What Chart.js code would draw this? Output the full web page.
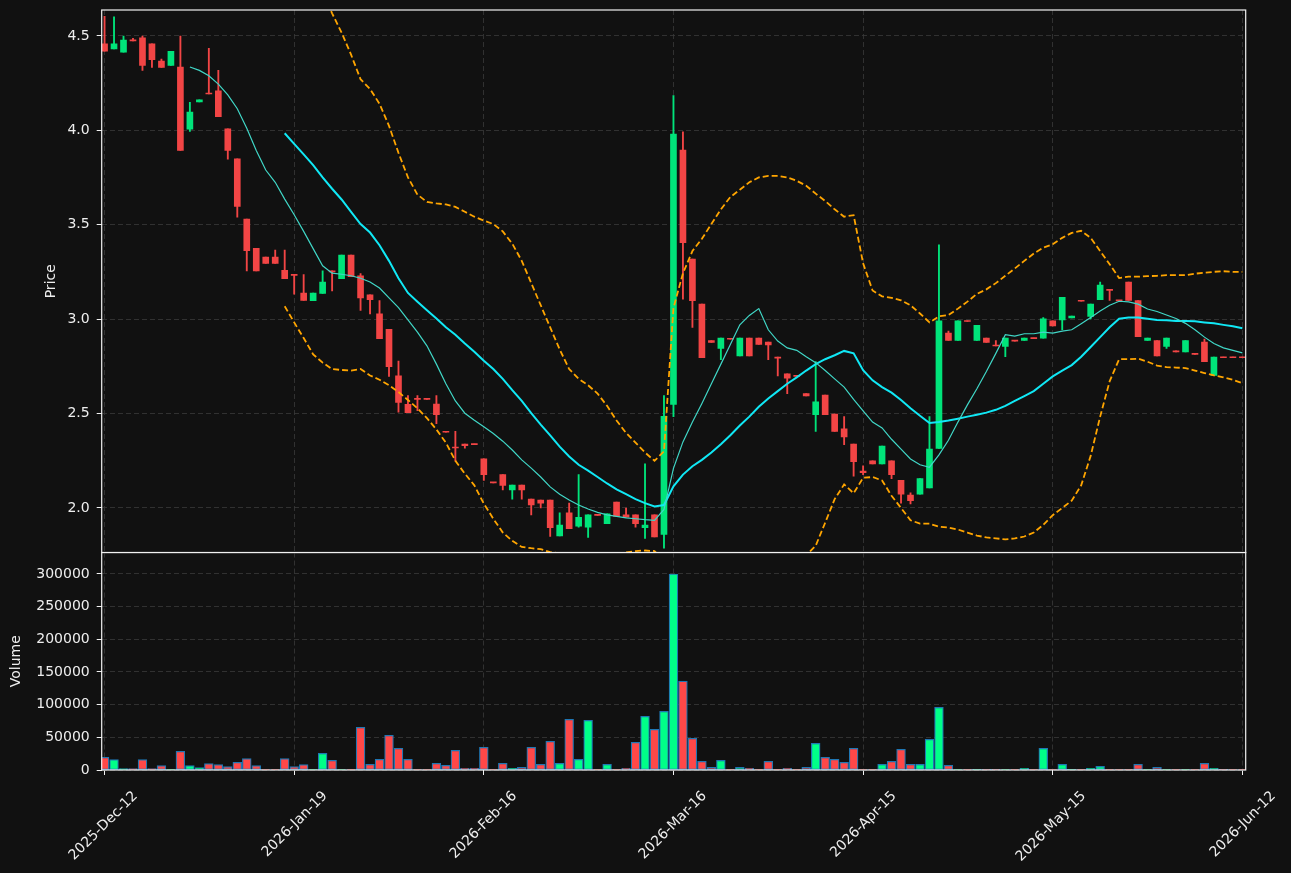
<!DOCTYPE html>
<html>
<head>
<meta charset="utf-8">
<script src="https://cdn.jsdelivr.net/npm/chart.js@4.4.1/dist/chart.umd.min.js"></script>
<style>
  html, body { margin: 0; padding: 0; background: #111111; }
  #wrap { position: relative; width: 1291px; height: 873px; overflow: hidden; background: #111111; }
  #priceChart { position: absolute; left: 0; top: 0; }
  #volChart { position: absolute; left: 0; top: 552px; }
</style>
</head>
<body>
<div id="wrap">
  <canvas id="priceChart" width="1291" height="556" style="width:1291px;height:556px"></canvas>
  <canvas id="volChart" width="1291" height="321" style="width:1291px;height:321px"></canvas>
</div>
<script>
// daily candles (one entry per trading day)
const opens = [4.458,4.432,4.414,4.479,4.490,4.458,4.367,4.344,4.336,4.006,
  4.151,4.198,4.209,4.008,3.850,3.530,3.376,3.329,3.329,3.259,
  3.236,3.139,3.098,3.137,3.256,3.215,3.340,3.230,3.129,3.028,
  2.947,2.700,2.549,2.578,2.578,2.551,2.406,2.322,2.338,2.338,
  2.260,2.135,2.177,2.096,2.122,2.047,2.042,2.042,1.852,1.974,
  1.904,1.898,1.964,1.917,2.031,1.964,1.964,1.896,1.964,1.860,
  2.549,3.896,3.319,3.080,2.887,2.845,2.897,2.806,2.900,2.900,
  2.879,2.799,2.710,2.700,2.606,2.494,2.598,2.497,2.419,2.338,
  2.195,2.250,2.234,2.250,2.146,2.068,2.073,2.107,2.315,2.926,
  2.887,2.991,2.887,2.900,2.861,2.856,2.887,2.887,2.900,2.900,
  2.991,2.996,3.007,3.098,3.015,3.103,3.158,3.100,3.197,3.098,
  2.887,2.887,2.856,2.833,2.827,2.817,2.879,2.702,2.799,2.799,
  2.799];
const highs = [4.604,4.601,4.500,4.487,4.500,4.458,4.378,4.419,4.500,4.149,
  4.162,4.435,4.318,4.008,3.850,3.530,3.376,3.329,3.366,3.366,
  3.236,3.236,3.139,3.256,3.256,3.340,3.340,3.241,3.129,3.098,
  2.947,2.778,2.596,2.596,2.578,2.596,2.406,2.406,2.338,2.338,
  2.260,2.135,2.177,2.122,2.122,2.047,2.042,2.042,1.974,2.026,
  2.177,1.964,1.964,1.969,2.031,2.000,1.964,2.234,1.964,2.596,
  4.185,3.993,3.319,3.080,2.887,2.900,2.897,2.900,2.900,2.900,
  2.879,2.799,2.710,2.700,2.606,2.775,2.598,2.497,2.484,2.338,
  2.224,2.250,2.328,2.250,2.146,2.081,2.156,2.484,3.394,2.937,
  2.991,2.991,2.968,2.900,2.887,2.900,2.887,2.900,2.900,3.009,
  2.991,3.116,3.017,3.098,3.080,3.197,3.158,3.100,3.197,3.098,
  2.900,2.887,2.900,2.833,2.887,2.817,2.895,2.799,2.799,2.799,
  2.799];
const lows = [4.419,4.432,4.414,4.474,4.318,4.333,4.333,4.344,3.894,3.995,
  4.151,4.193,4.073,3.847,3.540,3.256,3.256,3.296,3.296,3.215,
  3.132,3.100,3.098,3.137,3.150,3.215,3.225,3.046,3.028,2.897,
  2.697,2.507,2.505,2.515,2.575,2.447,2.401,2.250,2.317,2.336,
  2.146,2.133,2.096,2.047,2.047,1.964,2.000,1.849,1.852,1.891,
  1.898,1.844,1.961,1.917,1.956,1.951,1.898,1.839,1.847,1.787,
  2.484,3.106,2.957,2.796,2.877,2.786,2.894,2.806,2.806,2.866,
  2.786,2.700,2.606,2.697,2.593,2.406,2.494,2.406,2.336,2.169,
  2.177,2.234,2.234,2.156,2.026,2.021,2.073,2.107,2.315,2.887,
  2.887,2.988,2.887,2.877,2.858,2.801,2.884,2.887,2.897,2.900,
  2.965,2.944,3.007,3.095,3.002,3.103,3.100,3.097,3.100,2.908,
  2.887,2.806,2.845,2.827,2.827,2.814,2.775,2.702,2.796,2.796,
  2.796];
const closes = [4.419,4.458,4.479,4.474,4.344,4.375,4.333,4.419,3.894,4.097,
  4.162,4.193,4.073,3.894,3.597,3.363,3.256,3.296,3.296,3.215,
  3.232,3.100,3.139,3.197,3.251,3.340,3.225,3.113,3.103,2.897,
  2.749,2.559,2.505,2.575,2.575,2.494,2.401,2.318,2.330,2.336,
  2.177,2.133,2.120,2.122,2.096,2.016,2.026,1.896,1.909,1.891,
  1.951,1.964,1.961,1.969,1.956,1.951,1.917,1.909,1.847,2.486,
  3.980,3.405,3.098,2.796,2.877,2.900,2.894,2.900,2.806,2.866,
  2.864,2.793,2.687,2.697,2.593,2.562,2.494,2.406,2.377,2.245,
  2.187,2.234,2.328,2.177,2.073,2.039,2.156,2.312,2.991,2.887,
  2.991,2.988,2.968,2.877,2.858,2.900,2.884,2.900,2.897,3.002,
  2.965,3.116,3.017,3.095,3.080,3.181,3.152,3.097,3.100,2.908,
  2.900,2.806,2.900,2.827,2.887,2.814,2.775,2.799,2.796,2.796,
  2.796];
const volumes = [19400,15800,2000,2000,15800,2000,6600,500,28600,6600,
  3600,9700,8200,5100,11700,17300,6600,500,500,17300,
  5100,8200,500,25500,14800,500,500,65300,8700,16300,
  53100,33200,16300,500,500,10200,7100,30100,2600,2600,
  34700,500,10200,2600,4100,34700,8700,43900,10200,77600,
  16300,76000,500,8700,500,2600,42300,82100,62200,89800,
  300000,136000,48500,13300,4100,14800,500,4100,2600,500,
  13300,500,2600,500,4100,40800,19400,16300,11700,33200,
  500,500,8700,13300,31600,8700,8700,46900,95900,7100,
  500,500,1000,1000,1000,500,500,2600,500,33200,
  500,8700,1000,500,2600,5600,500,500,500,8700,
  500,4100,500,500,500,500,10200,2600,1000,500,
  500];

// moving averages and bands as drawn in the picture (null = not plotted yet)
const ma10 = [null,null,null,null,null,null,null,null,null,4.336,
  4.318,4.289,4.245,4.188,4.115,4.011,3.894,3.790,3.725,3.636,
  3.553,3.465,3.374,3.283,3.244,3.238,3.230,3.217,3.197,3.165,
  3.113,3.061,2.996,2.931,2.859,2.762,2.658,2.567,2.502,2.465,
  2.430,2.395,2.354,2.307,2.255,2.211,2.164,2.112,2.073,2.042,
  2.016,1.995,1.977,1.964,1.956,1.948,1.943,1.938,1.935,1.992,
  2.210,2.350,2.455,2.554,2.658,2.762,2.866,2.970,3.020,3.056,
  2.944,2.884,2.848,2.835,2.801,2.770,2.728,2.684,2.640,2.575,
  2.515,2.455,2.424,2.364,2.312,2.260,2.229,2.216,2.281,2.359,
  2.455,2.546,2.632,2.723,2.819,2.918,2.910,2.923,2.923,2.931,
  2.926,2.937,2.944,2.976,3.009,3.043,3.074,3.095,3.092,3.080,
  3.054,3.041,3.022,3.004,2.978,2.944,2.905,2.871,2.848,2.835,
  2.822];
const ma20 = [null,null,null,null,null,null,null,null,null,null,
  null,null,null,null,null,null,null,null,null,3.985,
  3.929,3.873,3.816,3.751,3.691,3.634,3.569,3.504,3.459,3.392,
  3.309,3.217,3.139,3.093,3.048,3.004,2.957,2.918,2.871,2.827,
  2.780,2.736,2.684,2.624,2.567,2.502,2.442,2.385,2.325,2.273,
  2.229,2.198,2.164,2.130,2.099,2.073,2.047,2.026,2.008,2.016,
  2.115,2.177,2.221,2.255,2.294,2.338,2.385,2.437,2.484,2.536,
  2.580,2.619,2.658,2.692,2.728,2.762,2.788,2.809,2.832,2.819,
  2.730,2.676,2.640,2.611,2.572,2.528,2.489,2.450,2.455,2.463,
  2.473,2.484,2.494,2.505,2.520,2.541,2.567,2.593,2.619,2.658,
  2.697,2.728,2.757,2.801,2.853,2.905,2.957,3.002,3.009,3.009,
  3.002,2.996,2.994,2.991,2.991,2.989,2.983,2.978,2.970,2.963,
  2.952];
const bbUpper = [null,null,null,null,null,null,null,null,null,null,
  null,null,null,null,null,null,null,null,null,4.901,
  4.875,4.846,4.818,4.732,4.620,4.518,4.401,4.271,4.219,4.141,
  4.024,3.881,3.751,3.660,3.621,3.613,3.608,3.595,3.569,3.543,
  3.522,3.504,3.465,3.400,3.309,3.191,3.074,2.957,2.840,2.736,
  2.684,2.650,2.606,2.541,2.463,2.398,2.346,2.294,2.250,2.300,
  3.060,3.243,3.361,3.426,3.504,3.582,3.647,3.686,3.725,3.751,
  3.759,3.759,3.751,3.733,3.707,3.665,3.626,3.582,3.543,3.551,
  3.296,3.152,3.121,3.113,3.100,3.074,3.030,2.983,3.015,3.022,
  3.056,3.093,3.134,3.158,3.191,3.230,3.269,3.309,3.348,3.379,
  3.397,3.431,3.457,3.468,3.431,3.361,3.291,3.218,3.225,3.225,
  3.228,3.230,3.233,3.233,3.233,3.241,3.246,3.251,3.254,3.251,
  3.251];
const bbLower = [null,null,null,null,null,null,null,null,null,null,
  null,null,null,null,null,null,null,null,null,3.069,
  2.983,2.900,2.814,2.770,2.736,2.731,2.728,2.736,2.702,2.679,
  2.650,2.614,2.572,2.528,2.476,2.416,2.346,2.250,2.182,2.120,
  2.023,1.943,1.870,1.826,1.794,1.787,1.782,1.766,1.760,1.755,
  1.745,1.740,1.740,1.745,1.755,1.765,1.772,1.775,1.772,1.720,
  1.150,1.110,1.080,1.080,1.080,1.090,1.120,1.190,1.240,1.320,
  1.400,1.480,1.570,1.650,1.750,1.800,1.922,2.047,2.125,2.078,
  2.160,2.164,2.146,2.065,2.000,1.935,1.917,1.917,1.901,1.896,
  1.886,1.870,1.854,1.844,1.839,1.834,1.839,1.849,1.870,1.911,
  1.962,2.000,2.039,2.120,2.276,2.484,2.671,2.788,2.788,2.791,
  2.775,2.754,2.746,2.744,2.741,2.728,2.715,2.702,2.692,2.679,
  2.661];

const tickIndex = [0, 20, 40, 60, 80, 100, 120];
const tickLabels = ['2025-Dec-12', '2026-Jan-19', '2026-Feb-16', '2026-Mar-16', '2026-Apr-15', '2026-May-15', '2026-Jun-12'];
const priceTicks = [2.0, 2.5, 3.0, 3.5, 4.0, 4.5];
const volumeTicks = [0, 50000, 100000, 150000, 200000, 250000, 300000];

const upColor = '#00e47a';
const downColor = '#f24545';
const volUp = '#00ff88';
const volDown = '#ff4848';
const textColor = '#eeeeee';
const gridColor = '#3a3a3a';
const spineColor = '#f2f2f2';
const tickFont = { family: 'DejaVu Sans', size: 14 };

const idx = closes.map((c, i) => i);
const isUp = i => closes[i] >= opens[i];

// white box round each panel, like the matplotlib spines
const frame = {
    id: 'frame',
    afterDraw(chart) {
        const a = chart.chartArea;
        const ctx = chart.ctx;
        ctx.save();
        ctx.strokeStyle = spineColor;
        ctx.lineWidth = 1.2;
        ctx.strokeRect(a.left, a.top, a.right - a.left, a.bottom - a.top);
        ctx.restore();
    }
};

function noPad(s){
    s.paddingTop = 0; s.paddingBottom = 0; s.paddingLeft = 0; s.paddingRight = 0;
}

function lineSet(data, color, width, dash){
    return {
        type: 'line', data: data, borderColor: color, borderWidth: width,
        borderDash: dash, pointRadius: 0, tension: 0, fill: false, order: 0
    };
}

function xScale(height, showLabels){
    return {
        type: 'linear', min: -0.3, max: 120.35, offset: false,
        afterBuildTicks: s => { s.ticks = tickIndex.map(v => ({ value: v })); },
        afterFit: s => { s.height = height; noPad(s); },
        ticks: {
            display: showLabels, color: textColor, font: tickFont, autoSkip: false,
            minRotation: 45, maxRotation: 45, padding: 13, labelOffset: 31,
            callback: (v, i) => tickLabels[i]
        },
        grid: { offset: false, color: gridColor, lineWidth: 0.8, drawTicks: showLabels,
                tickLength: 5, tickColor: spineColor, tickWidth: 1 },
        border: { display: false, dash: [5, 3] }
    };
}

new Chart(document.getElementById('priceChart'), {
    type: 'bar',
    data: {
        labels: idx,
        datasets: [
            lineSet(ma10, '#40d6c6', 1.2, []),
            lineSet(ma20, '#10e8f5', 2, []),
            lineSet(bbUpper, '#ffa500', 1.8, [6, 3]),
            lineSet(bbLower, '#ffa500', 1.8, [6, 3]),
            {   // wicks
                data: lows.map((l, i) => [l, highs[i]]),
                backgroundColor: ctx => isUp(ctx.dataIndex) ? upColor : downColor,
                barThickness: 1.2, grouped: false, order: 2
            },
            {   // bodies
                data: opens.map((o, i) => [o, closes[i]]),
                backgroundColor: ctx => isUp(ctx.dataIndex) ? upColor : downColor,
                barThickness: 6, minBarLength: 1, grouped: false, order: 1
            }
        ]
    },
    options: {
        responsive: false, animation: false, devicePixelRatio: 1, events: [],
        layout: { padding: { left: 42.6, right: 45.3, top: 10, bottom: 3.5 } },
        plugins: { legend: { display: false }, tooltip: { enabled: false } },
        scales: {
            x: xScale(0, false),
            y: {
                min: 1.7643, max: 4.6377,
                afterBuildTicks: s => { s.ticks = priceTicks.map(v => ({ value: v })); },
                afterFit: s => { s.width = 59.1; noPad(s); },
                ticks: { color: textColor, font: tickFont, padding: 7, callback: v => v.toFixed(1) },
                grid: { color: gridColor, lineWidth: 0.8, tickLength: 5, tickColor: spineColor, tickWidth: 1 },
                border: { display: false, dash: [5, 3] },
                title: { display: true, text: 'Price', color: textColor, font: tickFont, padding: { top: 0, bottom: 0 } }
            }
        }
    },
    plugins: [frame]
});

new Chart(document.getElementById('volChart'), {
    type: 'bar',
    data: {
        labels: idx,
        datasets: [{
            data: volumes,
            backgroundColor: ctx => isUp(ctx.dataIndex) ? volUp : volDown,
            borderColor: '#1f77b4', borderWidth: 1.2, borderSkipped: false,
            barThickness: 8.8, grouped: false
        }]
    },
    options: {
        responsive: false, animation: false, devicePixelRatio: 1, events: [],
        layout: { padding: { left: 8.1, right: 45.3, top: 0.5, bottom: 0 } },
        plugins: { legend: { display: false }, tooltip: { enabled: false } },
        scales: {
            x: xScale(103, true),
            y: {
                min: 0, max: 332900,
                afterBuildTicks: s => { s.ticks = volumeTicks.map(v => ({ value: v })); },
                afterFit: s => { s.width = 93.6; noPad(s); },
                ticks: { color: textColor, font: tickFont, padding: 7, callback: v => String(v) },
                grid: { color: gridColor, lineWidth: 0.8, tickLength: 5, tickColor: spineColor, tickWidth: 1 },
                border: { display: false, dash: [5, 3] },
                title: { display: true, text: 'Volume', color: textColor, font: tickFont, padding: { top: 0, bottom: 0 } }
            }
        }
    },
    plugins: [frame]
});
</script>
</body>
</html>
